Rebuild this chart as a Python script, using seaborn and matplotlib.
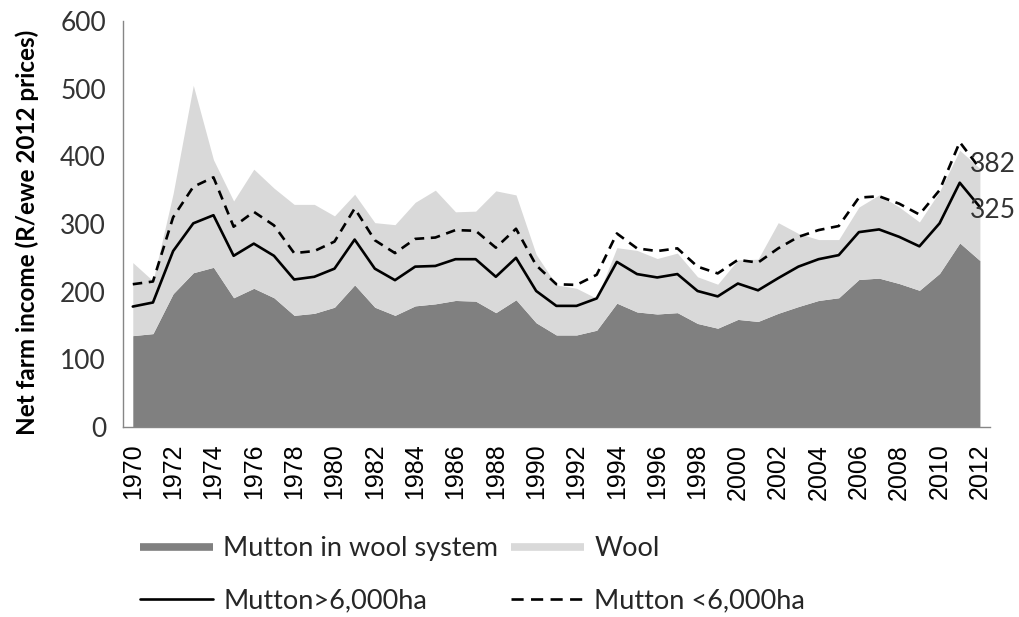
import numpy as np
import pandas as pd
import seaborn as sns
import matplotlib
matplotlib.use("Agg")
import matplotlib.pyplot as plt
import matplotlib.transforms as mtransforms
from matplotlib.lines import Line2D

years = list(range(1970, 2013))
mutton_wool_system = [135, 138, 197, 228, 236, 191, 205, 191, 165, 168, 177, 210, 177, 165, 179,
                      182, 187, 186, 169, 188, 154, 136, 136, 143, 183, 170, 167, 169, 153, 146,
                      159, 156, 168, 178, 187, 191, 218, 220, 212, 202, 227, 272, 246]
wool = [108, 78, 148, 277, 159, 143, 176, 162, 164, 161, 135, 134, 125, 134, 153,
        168, 131, 133, 180, 155, 101, 74, 69, 47, 82, 91, 82, 88, 69, 65,
        88, 92, 134, 108, 90, 86, 107, 123, 113, 101, 121, 137, 136]
mutton_large = [178, 184, 260, 301, 313, 253, 271, 253, 218, 222, 234, 277, 234, 217, 237,
                238, 248, 248, 222, 250, 201, 179, 179, 190, 244, 226, 221, 226, 201, 193,
                212, 202, 220, 237, 248, 254, 288, 292, 281, 267, 301, 361, 325]
mutton_small = [211, 215, 310, 355, 369, 296, 318, 298, 257, 260, 274, 323, 276, 257, 278,
                280, 291, 290, 265, 293, 239, 211, 210, 225, 286, 264, 260, 264, 237, 227,
                247, 243, 264, 281, 291, 297, 339, 341, 330, 314, 350, 421, 382]
series_labels = ["Mutton in wool system", "Wool", "Mutton>6,000ha", "Mutton <6,000ha"]
y_label = "Net farm income (R/ewe 2012 prices)"
y_ticks = [0, 100, 200, 300, 400, 500, 600]

df = pd.DataFrame({"year": years, "mutton": mutton_wool_system, "wool": wool,
                   "large": mutton_large, "small": mutton_small})
df["total"] = df["mutton"] + df["wool"]

sns.set_theme(style="white")
plt.rcParams["font.family"] = ["Lato", "DejaVu Sans"]

W, H = 1019, 617
fig = plt.figure(figsize=(W / 100, H / 100), dpi=100)
ax = fig.add_axes([122.7 / W, 1 - 427 / H, (990 - 122.7) / W, (427 - 21) / H])

dark = "#808080"
light = "#d9d9d9"
ax.fill_between(df["year"], 0, df["mutton"], color=dark, linewidth=0)
ax.fill_between(df["year"], df["mutton"], df["total"], color=light, linewidth=0)

sns.lineplot(data=df, x="year", y="large", ax=ax, color="black", linewidth=1.9)
sns.lineplot(data=df, x="year", y="small", ax=ax, color="black", linewidth=1.9,
             linestyle=(0, (3.6, 2.5)))

ax.set_xlim(1969.5, 2012.5)
ax.set_ylim(0, 600)
ax.set_yticks(y_ticks)
ax.set_xticks(years[::2])
ax.set_xticklabels([str(y) for y in years[::2]], rotation=90, family="Liberation Sans",
                   fontsize=18, color="black")
ax.set_xticks(np.arange(1969.5, 2013, 1), minor=True)
ax.tick_params(axis="x", which="major", length=0, pad=12)
ax.tick_params(axis="x", which="minor", length=6, width=1, color="#868686", direction="out")
ax.tick_params(axis="y", which="major", length=6, width=1, color="#868686", direction="out",
               labelsize=19, labelcolor="#333333", pad=6)
for s in ["top", "right"]:
    ax.spines[s].set_visible(False)
for s in ["left", "bottom"]:
    ax.spines[s].set_color("#868686")
    ax.spines[s].set_linewidth(1)
ax.set_xlabel("")
ax.set_ylabel(y_label, fontsize=17.5, fontweight="bold", color="black")
ax.yaxis.set_label_coords(-0.097, 0.48)

# end-point data labels
up = mtransforms.offset_copy(ax.transData, fig=fig, x=0, y=4, units="dots")
down = mtransforms.offset_copy(ax.transData, fig=fig, x=0, y=-3, units="dots")
ax.text(2011.5, mutton_small[-1], str(mutton_small[-1]), fontsize=19, va="center", ha="left",
        color="#333333", transform=up)
ax.text(2011.5, mutton_large[-1], str(mutton_large[-1]), fontsize=19, va="center", ha="left",
        color="#333333", transform=down)

handles = [Line2D([], [], color=dark, linewidth=5.5, solid_capstyle="butt"),
           Line2D([], [], color="black", linewidth=1.9),
           Line2D([], [], color=light, linewidth=5.5, solid_capstyle="butt"),
           Line2D([], [], color="black", linewidth=1.9, linestyle=(0, (4.6, 2.8)))]
labels = [series_labels[0], series_labels[2], series_labels[1], series_labels[3]]
fig.legend(handles, labels, ncol=2, loc="upper left", bbox_to_anchor=(140 / W, 1 - 536 / H),
           frameon=False, fontsize=19.5, handlelength=2.7, handletextpad=0.37,
           columnspacing=0.48, labelspacing=1.02, borderaxespad=0, borderpad=0)

fig.savefig("out.png", dpi=100)
